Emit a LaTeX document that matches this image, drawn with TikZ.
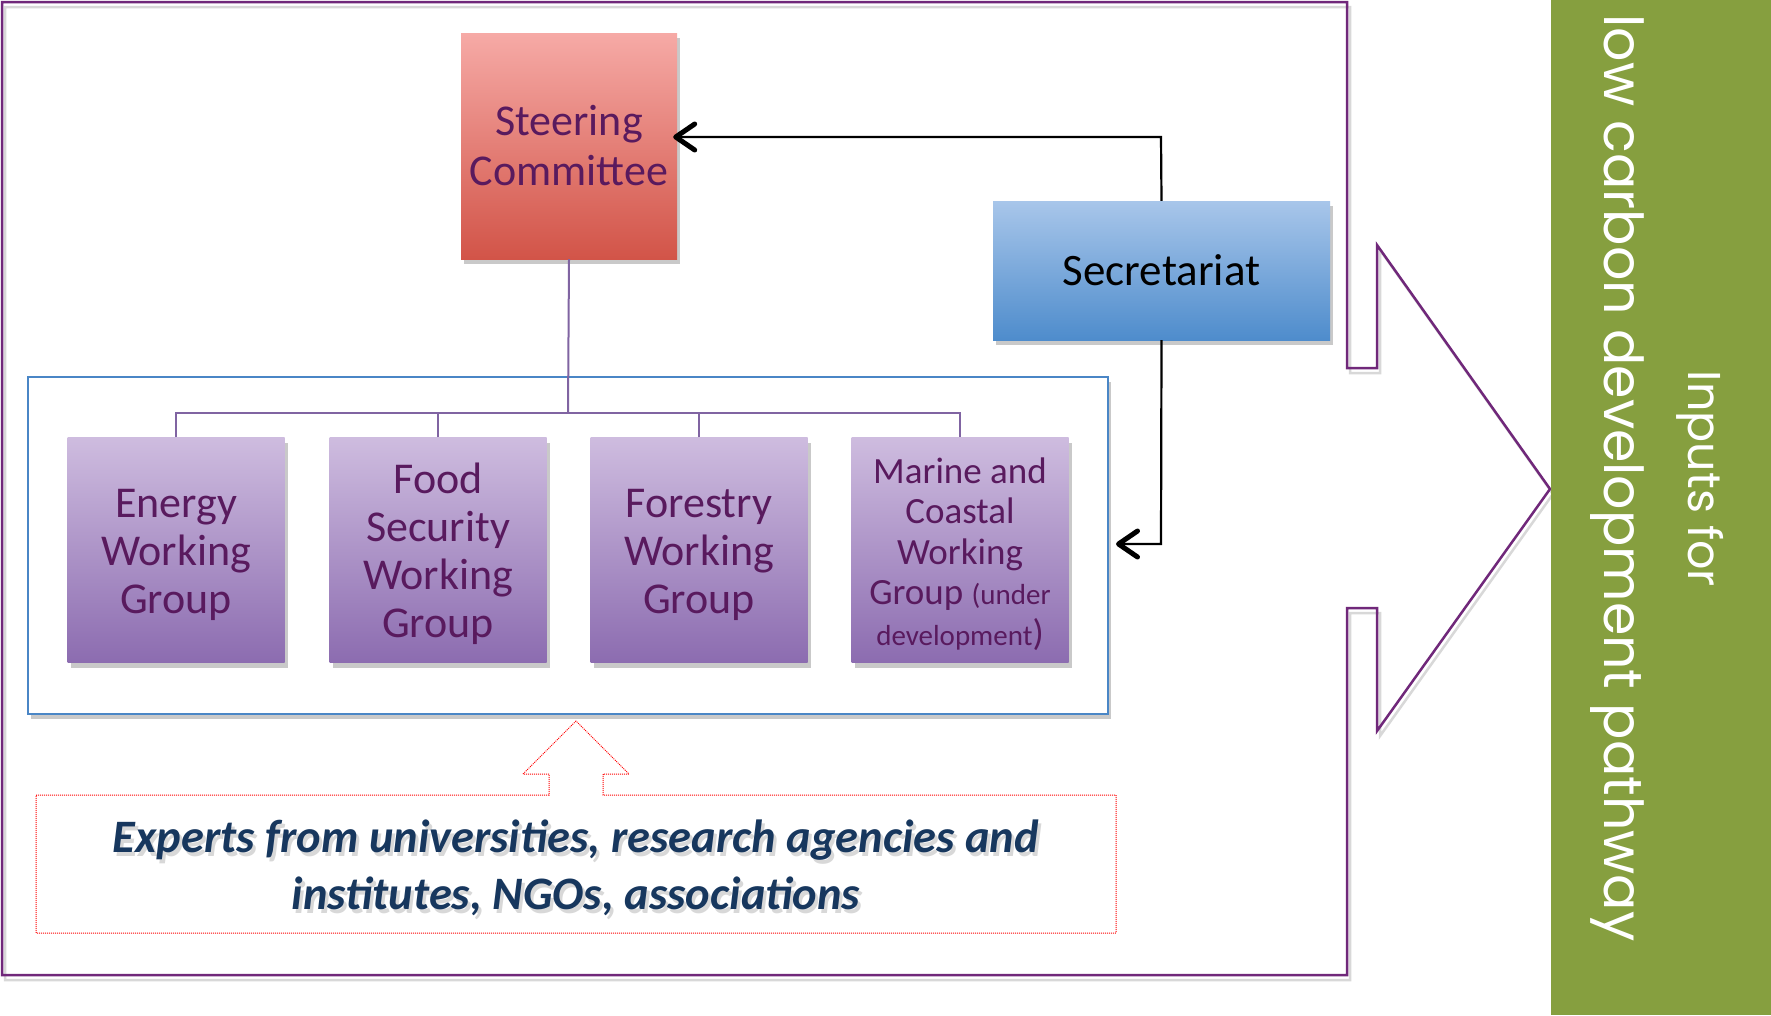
\documentclass[tikz,border=0pt]{standalone}
\usepackage{fontspec}
\setmainfont{Carlito}
\newfontfamily\gfont{Poppins}
\usetikzlibrary{arrows.meta,shadows,calc}
\definecolor{framepurple}{RGB}{112,40,122}
\definecolor{txtpurple}{RGB}{89,26,94}
\definecolor{linepurple}{RGB}{128,100,162}
\definecolor{grpblue}{RGB}{74,134,198}
\definecolor{olivegreen}{RGB}{134,159,63}
\definecolor{navytext}{RGB}{23,55,94}
\definecolor{redtop}{RGB}{246,170,166}
\definecolor{redbot}{RGB}{210,84,72}
\definecolor{bluetop}{RGB}{168,198,234}
\definecolor{bluebot}{RGB}{78,140,204}
\definecolor{wgtop}{RGB}{206,188,223}
\definecolor{wgbot}{RGB}{140,108,176}
\begin{document}
\begin{tikzpicture}[x=1pt,y=-1pt,
  boxshadow/.style={drop shadow={opacity=0.35,shadow xshift=3pt,shadow yshift=-5pt,fill=black!60}},
  steerbox/.style={rectangle,top color=redtop,bottom color=redbot,minimum width=216pt,minimum height=226pt,boxshadow,text=txtpurple,align=center,inner sep=0pt,font=\fontsize{44}{50}\selectfont},
  secbox/.style={rectangle,top color=bluetop,bottom color=bluebot,minimum width=337pt,minimum height=139pt,boxshadow,text=black,inner sep=0pt,font=\fontsize{45}{50}\selectfont},
  wgbox/.style={rectangle,top color=wgtop,bottom color=wgbot,minimum width=217pt,minimum height=225pt,boxshadow,inner sep=0pt},
  wgtext/.style={text=txtpurple,align=center,inner sep=0pt,font=\fontsize{44}{48}\selectfont},
  grpbox/.style={rectangle,draw=grpblue,line width=2pt,fill=white,minimum width=1080pt,minimum height=337pt,boxshadow},
  wgline/.style={draw=linepurple,line width=2pt},
  arr/.style={draw=black,line width=2.2pt,-{Straight Barb[length=19pt,width=26pt,line width=5pt,round]}},
  framestyle/.style={draw=framepurple,line width=2.5pt,line join=miter},
  expdot/.style={draw=red,line width=1pt,densely dotted},
  exptext/.style={align=center,font=\bfseries\itshape\fontsize{46.5}{57}\selectfont,inner sep=0pt}
]
\useasboundingbox (0,0) rectangle (1771,1015);
\fill[white] (0,0) rectangle (1771,1015);

% outer frame with arrow
\draw[framestyle,draw=black!25,opacity=0.6,shift={(3,5)}] (2,2) -- (1347,2) -- (1347,368) -- (1377,368) -- (1377,245) -- (1550,489) -- (1377,731) -- (1377,608) -- (1347,608) -- (1347,975) -- (2,975) -- cycle;
\draw[framestyle] (2,2) -- (1347,2) -- (1347,368) -- (1377,368) -- (1377,245) -- (1550,489) -- (1377,731) -- (1377,608) -- (1347,608) -- (1347,975) -- (2,975) -- cycle;

% green panel
\fill[olivegreen] (1551,0) rectangle (1771,1015);
\node[rotate=-90,anchor=base,text=white,inner sep=0pt,font=\gfont\fontsize{53.8}{60}\selectfont] (lcd) at (1604,478) {low carbon development pathway};
\node[rotate=-90,anchor=base,text=white,inner sep=0pt,font=\gfont\fontsize{46}{50}\selectfont] (inp) at (1688,479) {Inputs for};

% group container
\node[grpbox] (grp) at (568,545) {};

% boxes
\node[steerbox] (steer) at (569,146) {Steering\\Committee};
\node[secbox] (sec) at (1161.5,270.5) {Secretariat};
\node[wgbox] (wg1) at (176,550) {};
\node[wgbox] (wg2) at (438,550) {};
\node[wgbox] (wg3) at (699,550) {};
\node[wgbox] (wg4) at (960,550) {};
\node[wgtext] (wg1t) at (176,555) {Energy\\Working\\Group};
\node[wgtext] (wg2t) at (438,554) {Food\\Security\\Working\\Group};
\node[wgtext] (wg3t) at (699,555) {Forestry\\Working\\Group};
\node[wgtext,font=\fontsize{37}{40.5}\selectfont] (wg4t) at (960,554) {Marine and\\Coastal\\Working\\Group {\fontsize{29}{40.5}\selectfont(under}\\{\fontsize{29}{40.5}\selectfont development})};

% tree connectors
\coordinate (bus) at (568,413);
\draw[wgline] (steer.south) -- (bus);
\draw[wgline] (wg1.north) -- (wg1.north |- bus) -- (wg4.north |- bus) -- (wg4.north);
\draw[wgline] (wg2.north) -- (wg2.north |- bus);
\draw[wgline] (wg3.north) -- (wg3.north |- bus);

% secretariat arrows
\coordinate (c1) at (1161,137);
\coordinate (c2) at (1161,544);
\draw[arr,shorten >=-4pt] (sec.north) -- (c1) -- (steer.east |- c1);
\draw[arr,shorten >=7pt] (sec.south) -- (c2) -- (grp.east |- c2);

% experts box with up arrow
\draw[expdot] (36,795) -- (549,795) -- (549,774) -- (523,774) -- (576,721) -- (629,774) -- (603,774) -- (603,795) -- (1116,795) -- (1116,933) -- (36,933) -- cycle;
\node[exptext,text=black!30,opacity=0.5] (expts) at (579,872) {Experts from universities, research agencies and\\institutes, NGOs, associations};
\node[exptext,text=navytext] (expt) at (576,868) {Experts from universities, research agencies and\\institutes, NGOs, associations};
\end{tikzpicture}
\end{document}
